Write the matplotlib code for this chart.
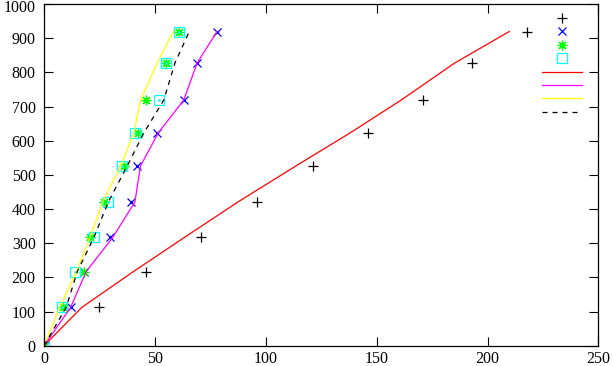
import matplotlib
matplotlib.use("Agg")
import matplotlib.pyplot as plt
from matplotlib.transforms import ScaledTranslation

# y levels shared by all series
y_levels = [0, 112, 217, 317, 421, 526, 623, 719, 827, 920]

# measured points
plus_x = [0, 24.6, 46, 71, 96, 121.4, 146.2, 171, 193.1, 217.9]
cross_x = [0, 12.2, 18.2, 29.8, 39.1, 42.1, 50.8, 63.1, 69.1, 78.0]
star_x = [0, 8.5, 18.2, 20.7, 27.2, 36.1, 42.5, 46.0, 55.1, 61.0]
square_x = [0, 8.3, 14.1, 22.7, 29.0, 35.0, 41.2, 52.0, 55.1, 61.0]

# model curves
red_x = [0, 17, 40.3, 63.3, 87.5, 113.5, 138, 161, 185, 209.8]
magenta_x = [0, 12, 19, 31, 41, 43.5, 51.5, 63, 69, 78]
yellow_x = [0, 7, 14.7, 20.7, 26.5, 34.5, 40.5, 43.5, 51, 58.3]
dashed_x = [0, 10, 15, 22.5, 29, 37.5, 45, 54, 59, 65.5]

x_ticks = [0, 50, 100, 150, 200, 250]
y_ticks = list(range(0, 1001, 100))

plt.rcParams['font.family'] = ['Liberation Serif', 'DejaVu Serif']

W, H = 613, 366
fig = plt.figure(figsize=(W / 100, H / 100), dpi=100)
ax_w = (598.4 - 44) / W
ax_h = (345.7 - 4.2) / H
ax = fig.add_axes([44 / W, (H - 345.7) / H, ax_w, ax_h])

lw = 0.9
h1, = ax.plot(plus_x, y_levels, ls='none', marker='+', ms=7, mew=lw, color='black', label=' ')
h2, = ax.plot(cross_x, y_levels, ls='none', marker='x', ms=6, mew=lw, color='#0000ff', label=' ')
ax.plot(cross_x, y_levels, ls='none', marker='.', ms=2, color='#0000ff')
h3, = ax.plot(star_x, y_levels, ls='none', marker=(8, 2, 0), ms=7, mew=lw, color='#00ff00', label=' ')
h4, = ax.plot(square_x, y_levels, ls='none', marker='s', ms=7, mew=lw, mfc='none', color='#00ffff', label=' ')
ax.plot(square_x, y_levels, ls='none', marker='.', ms=2, color='#00ffff')
h5, = ax.plot(red_x, y_levels, color='#ff0000', lw=lw, label=' ')
h6, = ax.plot(magenta_x, y_levels, color='#ff00ff', lw=lw, label=' ')
h7, = ax.plot(yellow_x, y_levels, color='#ffff00', lw=lw, label=' ')
h8, = ax.plot(dashed_x, y_levels, color='black', lw=lw, ls=(0, (4, 4)), label=' ')

ax.set_xlim(0, 250)
ax.set_ylim(0, 1000)
ax.set_xticks(x_ticks)
ax.set_yticks(y_ticks)
ax.tick_params(direction='in', length=6.5, width=0.8, top=True, right=True,
               labelsize=11.5)
ax.tick_params(axis='y', pad=6)
ax.tick_params(axis='x', pad=4)
for s in ax.spines.values():
    s.set_linewidth(0.9)

# keep the topmost y label inside the canvas
top_lbl = ax.get_yticklabels()[-1]
top_lbl.set_transform(top_lbl.get_transform() + ScaledTranslation(0, -2 / 100, fig.dpi_scale_trans))

leg = ax.legend(handles=[h1, h2, h3, h4, h5, h6, h7, h8], labels=[' '] * 8,
                loc='upper right', frameon=False, numpoints=1, fontsize=8,
                handlelength=3.6, handletextpad=0.0, labelspacing=0.33,
                borderaxespad=0.3, borderpad=0.3,
                bbox_to_anchor=(1 - 7 / (ax_w * W), 1 - 3 / (ax_h * H)))

fig.savefig('out.png', dpi=100)
